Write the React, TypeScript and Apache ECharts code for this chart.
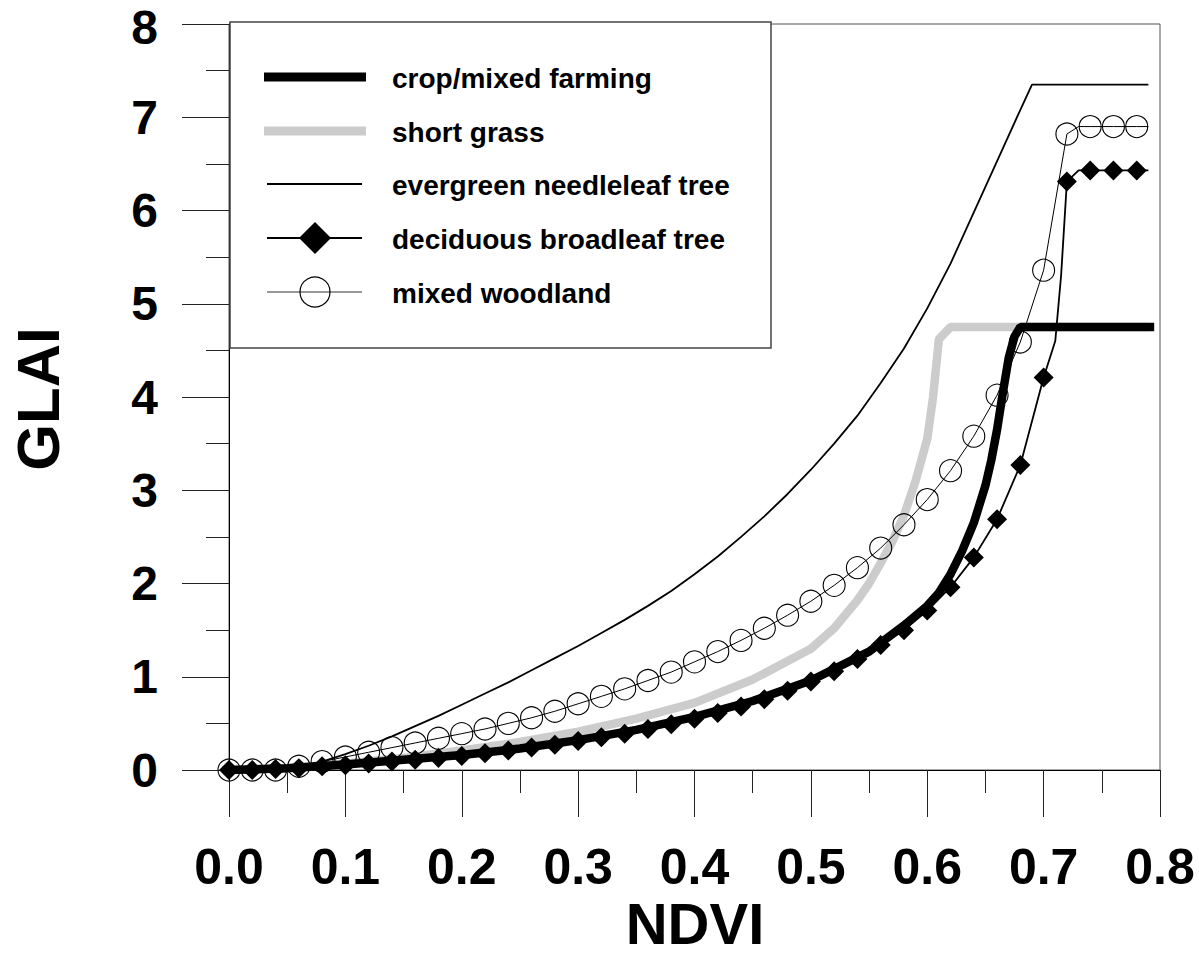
import React, { useEffect, useRef } from "react";
import * as echarts from "echarts";

// ---- data ----
const markerNdvi = [0.0, 0.02, 0.04, 0.06, 0.08, 0.1, 0.12, 0.14, 0.16, 0.18, 0.2, 0.22, 0.24, 0.26, 0.28, 0.3, 0.32, 0.34, 0.36, 0.38, 0.4, 0.42, 0.44, 0.46, 0.48, 0.5, 0.52, 0.54, 0.56, 0.58, 0.6, 0.62, 0.64, 0.66, 0.68, 0.7, 0.72, 0.74, 0.76, 0.78];

const woodland = [0, 0, 0, 0.04, 0.09, 0.14, 0.19, 0.24, 0.29, 0.34, 0.39, 0.44, 0.5, 0.56, 0.63, 0.71, 0.79, 0.87, 0.96, 1.05, 1.16, 1.27, 1.39, 1.52, 1.66, 1.81, 1.98, 2.17, 2.38, 2.63, 2.9, 3.21, 3.58, 4.02, 4.59, 5.36, 6.82, 6.9, 6.9, 6.9];
const woodlandExtraNdvi = [0.73, 0.79];
const woodlandExtra = [6.9, 6.9];

const deciduous = [0, 0, 0.01, 0.02, 0.04, 0.05, 0.07, 0.09, 0.11, 0.13, 0.15, 0.18, 0.21, 0.24, 0.27, 0.31, 0.35, 0.39, 0.44, 0.49, 0.55, 0.61, 0.68, 0.76, 0.85, 0.95, 1.06, 1.19, 1.34, 1.5, 1.71, 1.96, 2.28, 2.69, 3.27, 4.21, 6.31, 6.43, 6.43, 6.43];
const deciduousExtraNdvi = [0.71, 0.715, 0.73, 0.79];
const deciduousExtra = [4.6, 5.3, 6.43, 6.43];

const evergreenNdvi = [0, 0.02, 0.04, 0.06, 0.08, 0.1, 0.12, 0.14, 0.16, 0.18, 0.2, 0.22, 0.24, 0.26, 0.28, 0.3, 0.32, 0.34, 0.36, 0.38, 0.4, 0.42, 0.44, 0.46, 0.48, 0.5, 0.52, 0.54, 0.56, 0.58, 0.6, 0.62, 0.64, 0.66, 0.68, 0.69, 0.79];
const evergreen = [0, 0, 0.01, 0.04, 0.09, 0.17, 0.26, 0.36, 0.47, 0.58, 0.7, 0.82, 0.94, 1.07, 1.2, 1.33, 1.47, 1.61, 1.76, 1.92, 2.1, 2.29, 2.5, 2.72, 2.96, 3.22, 3.5, 3.8, 4.15, 4.52, 4.95, 5.43, 5.98, 6.53, 7.08, 7.35, 7.35];

const cropNdvi = [0, 0.05, 0.1, 0.15, 0.2, 0.25, 0.3, 0.35, 0.4, 0.45, 0.5, 0.55, 0.58, 0.6, 0.61, 0.62, 0.63, 0.64, 0.65, 0.655, 0.66, 0.665, 0.67, 0.675, 0.68, 0.795];
const crop = [0, 0.02, 0.06, 0.11, 0.16, 0.23, 0.32, 0.43, 0.57, 0.74, 0.96, 1.27, 1.55, 1.76, 1.9, 2.1, 2.35, 2.65, 3.05, 3.32, 3.65, 4.05, 4.42, 4.65, 4.75, 4.75];

const grassNdvi = [0, 0.05, 0.1, 0.15, 0.2, 0.25, 0.3, 0.35, 0.4, 0.45, 0.5, 0.52, 0.54, 0.55, 0.56, 0.57, 0.58, 0.59, 0.6, 0.605, 0.61, 0.62, 0.79];
const grass = [0, 0.02, 0.07, 0.13, 0.21, 0.3, 0.41, 0.55, 0.72, 0.97, 1.3, 1.52, 1.82, 2.0, 2.22, 2.45, 2.73, 3.1, 3.55, 4.0, 4.62, 4.75, 4.75];

const legendNames = [
  "crop/mixed farming",
  "short grass",
  "evergreen needleleaf tree",
  "deciduous broadleaf tree",
  "mixed woodland",
];

const xTitle = "NDVI";
const yTitle = "GLAI";
const yMaxLabel = "8";

const FONT = "'Liberation Sans', Arial, Helvetica, sans-serif";

function pairs(xs: number[], ys: number[]) {
  return xs.map((x, i) => [x, ys[i]]);
}

function withExtras(xs: number[], ys: number[], ex: number[], ey: number[]) {
  const items: any[] = xs.map((x, i) => ({ value: [x, ys[i]] }));
  ex.forEach((x, i) => items.push({ value: [x, ey[i]], symbol: "none" }));
  items.sort((a, b) => a.value[0] - b.value[0]);
  return items;
}

export default function App() {
  const ref = useRef<HTMLDivElement>(null);

  useEffect(() => {
    if (!ref.current) return;
    const chart = echarts.init(ref.current, null, { renderer: "svg" });

    const rowY = [77, 131, 184, 238, 292];
    const lx1 = 264;
    const lx2 = 366;
    const lcx = 315;
    const textX = 392;

    const legendGraphics: any[] = [
      {
        type: "rect",
        shape: { x: 230, y: 22, width: 541, height: 326 },
        style: { fill: "#fff", stroke: "#444", lineWidth: 1.5 },
        z: 100,
      },
      {
        type: "line",
        shape: { x1: lx1, y1: rowY[0], x2: lx2, y2: rowY[0] },
        style: { stroke: "#000", lineWidth: 9 },
        z: 101,
      },
      {
        type: "line",
        shape: { x1: lx1, y1: rowY[1], x2: lx2, y2: rowY[1] },
        style: { stroke: "#cccccc", lineWidth: 9 },
        z: 101,
      },
      {
        type: "line",
        shape: { x1: 267, y1: rowY[2], x2: 362, y2: rowY[2] },
        style: { stroke: "#000", lineWidth: 2 },
        z: 101,
      },
      {
        type: "line",
        shape: { x1: 267, y1: rowY[3], x2: 362, y2: rowY[3] },
        style: { stroke: "#000", lineWidth: 2 },
        z: 101,
      },
      {
        type: "polygon",
        shape: {
          points: [
            [lcx, rowY[3] - 16],
            [lcx + 16, rowY[3]],
            [lcx, rowY[3] + 16],
            [lcx - 16, rowY[3]],
          ],
        },
        style: { fill: "#000" },
        z: 102,
      },
      {
        type: "line",
        shape: { x1: 267, y1: rowY[4], x2: 362, y2: rowY[4] },
        style: { stroke: "#333", lineWidth: 1.2 },
        z: 101,
      },
      {
        type: "circle",
        shape: { cx: lcx, cy: rowY[4], r: 15 },
        style: { fill: "none", stroke: "#000", lineWidth: 1.2 },
        z: 102,
      },
      ...legendNames.map((name, i) => ({
        type: "text",
        x: textX,
        y: rowY[i] + 1,
        z: 102,
        style: {
          text: name,
          fill: "#000",
          font: `bold 28px ${FONT}`,
          align: "left",
          verticalAlign: "middle",
        },
      })),
    ];

    const option: any = {
      animation: false,
      backgroundColor: "#fff",
      grid: {
        left: 229,
        right: 39,
        top: 24,
        bottom: 184,
        show: true,
        borderColor: "#555",
        borderWidth: 1,
        backgroundColor: "transparent",
      },
      xAxis: {
        type: "value",
        min: 0,
        max: 0.8,
        interval: 0.1,
        axisLine: { show: true, onZero: false, lineStyle: { color: "#000", width: 1 } },
        axisTick: { show: true, inside: false, length: 47, lineStyle: { color: "#222", width: 1 } },
        minorTick: { show: true, splitNumber: 2, length: 23, lineStyle: { color: "#222", width: 1 } },
        splitLine: { show: false },
        minorSplitLine: { show: false },
        axisLabel: {
          margin: 75,
          formatter: (v: number) => v.toFixed(1),
          fontSize: 50,
          lineHeight: 44,
          fontWeight: "bold",
          fontFamily: FONT,
          color: "#000",
        },
      },
      yAxis: {
        type: "value",
        min: 0,
        max: 8,
        interval: 1,
        axisLine: { show: true, onZero: false, lineStyle: { color: "#000", width: 1 } },
        axisTick: { show: true, inside: false, length: 47, lineStyle: { color: "#222", width: 1 } },
        minorTick: { show: true, splitNumber: 2, length: 23, lineStyle: { color: "#222", width: 1 } },
        splitLine: { show: false },
        minorSplitLine: { show: false },
        axisLabel: {
          margin: 71,
          showMaxLabel: false,
          formatter: (v: number) => (v >= 8 ? "" : String(v)),
          fontSize: 48,
          lineHeight: 40,
          fontWeight: "bold",
          fontFamily: FONT,
          color: "#000",
        },
      },
      graphic: [
        {
          type: "text",
          x: 158,
          y: 27,
          style: {
            text: yMaxLabel,
            fill: "#000",
            font: `bold 48px ${FONT}`,
            lineHeight: 40,
            align: "right",
            verticalAlign: "middle",
          },
        },
        {
          type: "text",
          x: 695,
          y: 923,
          style: {
            text: xTitle,
            fill: "#000",
            font: `bold 58px ${FONT}`,
            lineHeight: 48,
            align: "center",
            verticalAlign: "middle",
          },
        },
        {
          type: "text",
          x: 38,
          y: 399,
          rotation: Math.PI / 2,
          style: {
            text: yTitle,
            fill: "#000",
            font: `bold 60px ${FONT}`,
            align: "center",
            verticalAlign: "middle",
          },
        },
        ...legendGraphics,
      ],
      series: [
        {
          name: legendNames[1],
          type: "line",
          data: pairs(grassNdvi, grass),
          symbol: "none",
          lineStyle: { color: "#cccccc", width: 8.5, join: "bevel" },
          z: 1,
        },
        {
          name: legendNames[0],
          type: "line",
          data: pairs(cropNdvi, crop),
          symbol: "none",
          lineStyle: { color: "#000", width: 8.5 },
          z: 2,
        },
        {
          name: legendNames[2],
          type: "line",
          data: pairs(evergreenNdvi, evergreen),
          symbol: "none",
          lineStyle: { color: "#000", width: 1.8 },
          z: 3,
        },
        {
          name: legendNames[4],
          type: "line",
          data: withExtras(markerNdvi, woodland, woodlandExtraNdvi, woodlandExtra),
          symbol: "circle",
          symbolSize: 22,
          showAllSymbol: true,
          itemStyle: { color: "transparent", borderColor: "#000", borderWidth: 1.1 },
          lineStyle: { color: "#000", width: 1 },
          z: 4,
        },
        {
          name: legendNames[3],
          type: "line",
          data: withExtras(markerNdvi, deciduous, deciduousExtraNdvi, deciduousExtra),
          symbol: "diamond",
          symbolSize: 20,
          showAllSymbol: true,
          itemStyle: { color: "#000" },
          lineStyle: { color: "#000", width: 1.8 },
          z: 5,
        },
      ],
    };

    chart.setOption(option);
    return () => chart.dispose();
  }, []);

  return (
    <div
      ref={ref}
      style={{ position: "fixed", left: 0, top: 0, width: 1199, height: 954, background: "#fff" }}
    />
  );
}
